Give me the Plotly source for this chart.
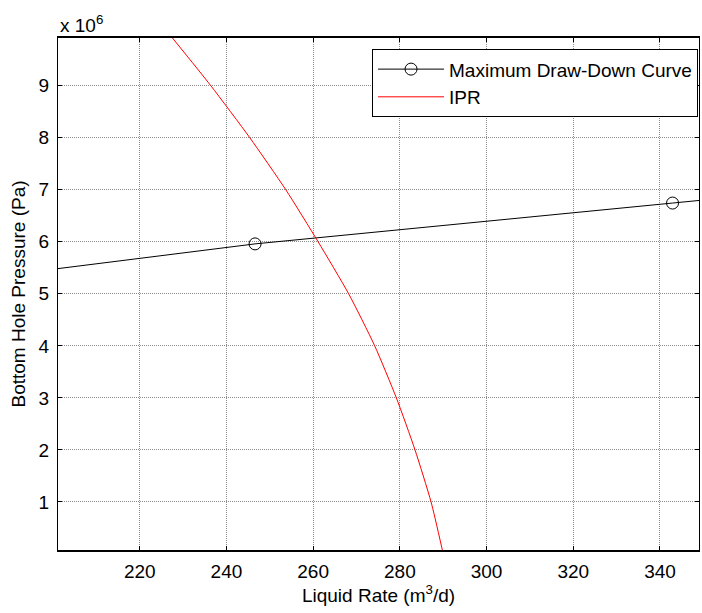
import plotly.graph_objects as go

# Maximum draw-down curve (only the two middle points fall inside the view)
mdd_rate = [150.0, 246.6, 342.9, 439.5]
mdd_pres = [4.95e6, 5.96e6, 6.745e6, 7.53e6]

# IPR curve
ipr_rate = [227.55, 236.4, 245.4, 253.7, 261.15, 268.2, 274.2, 279.2, 283.5, 287.2, 289.8]
ipr_pres = [9.917e6, 9.0e6, 8.0e6, 7.0e6, 6.0e6, 5.0e6, 4.0e6, 3.0e6, 2.0e6, 1.0e6, 0.077e6]

x_ticks = [220, 240, 260, 280, 300, 320, 340]
y_ticks = [1e6, 2e6, 3e6, 4e6, 5e6, 6e6, 7e6, 8e6, 9e6]
y_ticklabels = ["1", "2", "3", "4", "5", "6", "7", "8", "9"]

FONT = "Liberation Sans, Arial, sans-serif"
FS = 19

fig = go.Figure()
fig.add_trace(go.Scatter(
    x=mdd_rate, y=mdd_pres, mode="lines+markers",
    name="Maximum Draw-Down Curve",
    line=dict(color="black", width=1),
    marker=dict(symbol="circle-open", size=12, color="black", line=dict(width=1)),
))
fig.add_trace(go.Scatter(
    x=ipr_rate, y=ipr_pres, mode="lines", name="IPR",
    line=dict(color="#ff0000", width=1, shape="spline", smoothing=0.6),
))

axis_common = dict(
    showline=True, linecolor="black", mirror="allticks",
    ticks="inside", ticklen=4, tickcolor="black",
    showgrid=True, gridcolor="#8c8c8c", griddash="1px,1px", gridwidth=1,
    zeroline=False,
    tickfont=dict(family=FONT, size=FS, color="black"),
)

fig.update_layout(
    width=702, height=613,
    margin=dict(l=58, r=3, t=38, b=63),
    plot_bgcolor="white", paper_bgcolor="white",
    font=dict(family=FONT, size=FS, color="black"),
    showlegend=True,
    legend=dict(
        x=0.9985, xanchor="right", y=0.978, yanchor="top",
        bgcolor="white", bordercolor="black", borderwidth=1,
        font=dict(family=FONT, size=FS, color="black"),
        tracegroupgap=0, itemwidth=66,
    ),
    xaxis=dict(
        range=[201.15, 349.0], tickvals=x_ticks, linewidth=1.5,
        title=dict(text="Liquid Rate (m<sup>3</sup>/d)", standoff=6,
                   font=dict(family=FONT, size=FS, color="black")),
        ticklabelstandoff=3,
        **axis_common,
    ),
    yaxis=dict(
        range=[0.077e6, 9.917e6], tickvals=y_ticks, ticktext=y_ticklabels,
        linewidth=1,
        title=dict(text="Bottom Hole Pressure (Pa)", standoff=7,
                   font=dict(family=FONT, size=FS, color="black")),
        ticklabelstandoff=4,
        **axis_common,
    ),
    annotations=[dict(
        text="x 10<sup>6</sup>", xref="paper", yref="paper",
        x=0, y=1, xanchor="left", yanchor="bottom", yshift=0,
        showarrow=False, font=dict(family=FONT, size=FS, color="black"),
    )],
)

fig.write_html("out.html")
